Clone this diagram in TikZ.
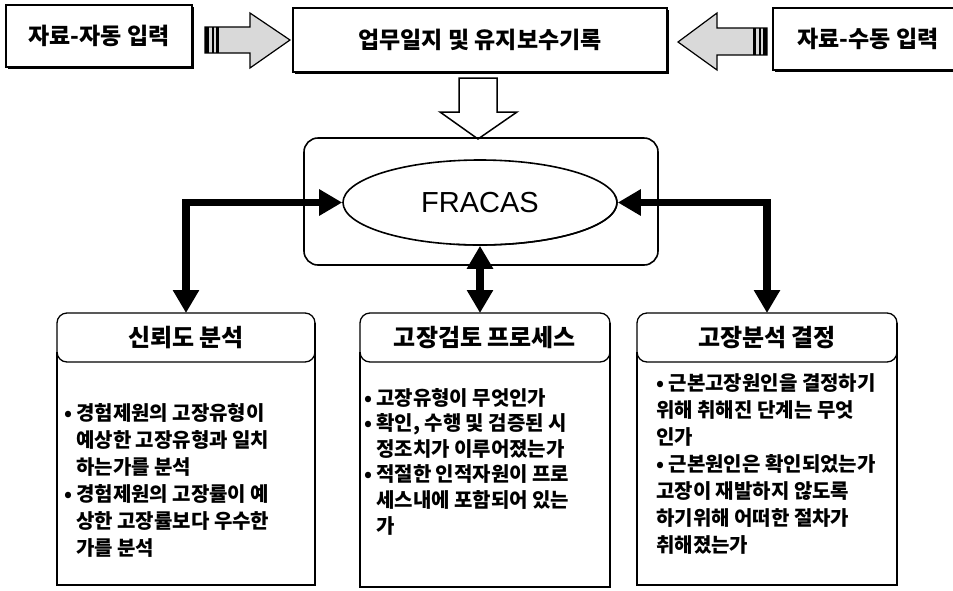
\documentclass[tikz,border=0pt]{standalone}
\usepackage{fontspec}
\setmainfont{Noto Sans CJK KR}
\newfontfamily\arialf{Liberation Sans}
\usetikzlibrary{shapes.geometric,arrows.meta,shadows}
\newcommand\kbitem{•\ }
\tikzset{
  topbox/.style={draw, line width=1.3pt, fill=white, inner sep=0pt,
    font=\fontsize{23}{27}\selectfont\bfseries,
    general shadow={fill=black, shadow xshift=2pt, shadow yshift=-2pt}},
  conn/.style={line width=7.5pt, {Triangle[length=23pt,width=25pt]}-{Triangle[length=23pt,width=25pt]}},
  grayarrow/.style={draw, line width=1.2pt, fill=gray!30},
  frame/.style={line width=1.3pt},
  shade/.style={line width=2.8pt},
  paneltitle/.style={font=\fontsize{24}{28}\selectfont\bfseries},
  panelbody/.style={font=\fontsize{20}{27}\selectfont\bfseries, inner sep=0pt, anchor=west},
  anchorbox/.style={inner sep=0pt, outer sep=0pt}
}
\begin{document}
\begin{tikzpicture}[x=1pt,y=-1pt]
\useasboundingbox (0,0) rectangle (953,590);
\clip (0,0) rectangle (953,590);

% top boxes
\node[topbox, minimum width=186pt, minimum height=62pt] (tl) at (99,36) {자료-자동 입력};
\node[topbox, minimum width=374pt, minimum height=64pt] (tc) at (480,40) {업무일지 및 유지보수기록};
\node[topbox, minimum width=190pt, minimum height=62pt] (tr) at (868,39) {자료-수동 입력};

% gray block arrows
\path[grayarrow] (205,27) -- (250,27) -- (250,13) -- (290,40) -- (250,68) -- (250,53) -- (205,53) -- cycle;
\fill (205,27) rectangle (209,53);
\fill (211.5,27) rectangle (213.5,53);
\fill (216,27) rectangle (219,53);
\path[grayarrow] (767,28) -- (717,28) -- (717,13) -- (678,42) -- (717,70) -- (717,55) -- (767,55) -- cycle;
\fill (767,28) rectangle (763,55);
\fill (760.5,28) rectangle (758.5,55);
\fill (756,28) rectangle (753,55);

% hollow arrow down
\draw[line width=1.5pt, fill=white] (459,78) -- (459,112) -- (440,112) -- (478,139) -- (517,112) -- (497,112) -- (497,78) -- cycle;

% FRACAS
\node[draw, line width=1.6pt, rounded corners=14pt, minimum width=354pt, minimum height=127pt, anchorbox] (fb) at (481,201.5) {};
\node[ellipse, draw, line width=1.6pt, fill=white, minimum width=274pt, minimum height=85pt, inner sep=0pt,
  font=\arialf\fontsize{29}{33}\selectfont] (fr) at (480,202.5) {FRACAS};
\draw[line width=1.5pt] ([shift={(-10:137 and 42.5)}]fr.center) arc[start angle=-10, end angle=100, x radius=137, y radius=42.5];

% bottom panels
\node[anchorbox, minimum width=258pt, minimum height=272pt] (b1) at (186,449) {};
\node[anchorbox, minimum width=250pt, minimum height=274pt] (b2) at (485,450) {};
\node[anchorbox, minimum width=260pt, minimum height=272pt] (b3) at (767,449) {};

\foreach \p in {b1,b2,b3}{
  \draw[frame, rounded corners=10pt] (\p.north west) rectangle ([yshift=-49pt]\p.north east);
  \draw[frame] ([yshift=-39pt]\p.north west) -- (\p.south west) -- (\p.south east) -- ([yshift=-39pt]\p.north east);
  \draw[shade] ([yshift=-10pt]\p.north east) -- (\p.south east) -- (\p.south west);
}
\node[paneltitle] (t1) at ([yshift=-25pt]b1.north) {신뢰도 분석};
\node[paneltitle] (t2) at ([yshift=-25pt]b2.north) {고장검토 프로세스};
\node[paneltitle] (t3) at ([yshift=-25pt]b3.north) {고장분석 결정};

\node[panelbody] (x1) at (64,483) {\begin{tabular}{@{}l@{\hspace{4pt}}l@{}}
•&경험제원의 고장유형이\\
&예상한 고장유형과 일치\\
&하는가를 분석\\
•&경험제원의 고장률이 예\\
&상한 고장률보다 우수한\\
&가를 분석
\end{tabular}};
\node[panelbody, font=\fontsize{20}{25.6}\selectfont\bfseries] (x2) at (364,464) {\begin{tabular}{@{}l@{\hspace{4pt}}l@{}}
•&고장유형이 무엇인가\\
•&확인, 수행 및 검증된 시\\
&정조치가 이루어졌는가\\
•&적절한 인적자원이 프로\\
&세스내에 포함되어 있는\\
&가
\end{tabular}};
\node[panelbody] (x3) at (656,466) {\begin{tabular}{@{}l@{}}
\kbitem 근본고장원인을 결정하기\\
위해 취해진 단계는 무엇\\
인가\\
\kbitem 근본원인은 확인되었는가\\
고장이 재발하지 않도록\\
하기위해 어떠한 절차가\\
취해졌는가
\end{tabular}};

% connectors
\draw[conn] (fr.west) -| (b1.north);
\draw[conn] (fr.east) -| (b3.north);
\draw[conn] (fr.south) -- (fr.south |- b2.north);
\end{tikzpicture}
\end{document}
